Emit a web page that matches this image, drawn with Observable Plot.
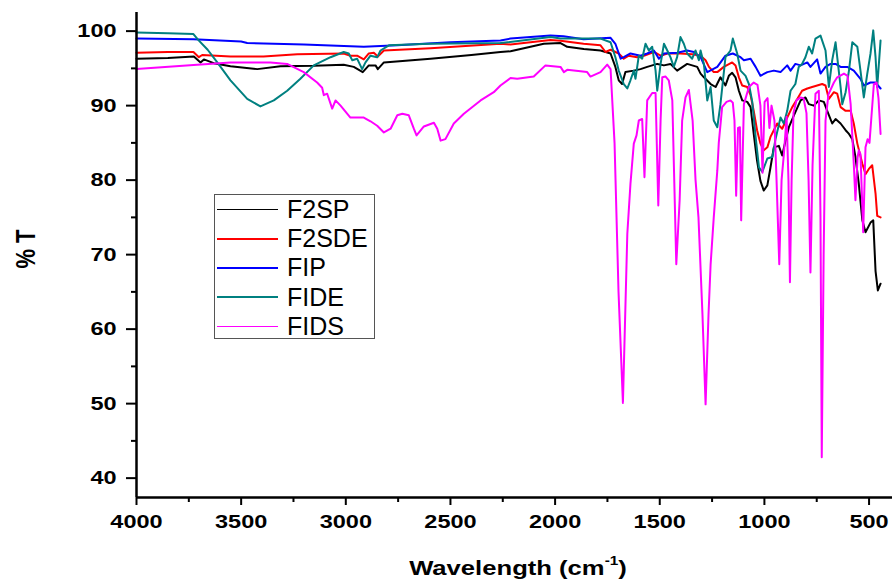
<!DOCTYPE html>
<html><head><meta charset="utf-8">
<script src="https://cdn.jsdelivr.net/npm/d3@7"></script>
<script src="https://cdn.jsdelivr.net/npm/@observablehq/plot@0.6"></script>
<style>
html,body{margin:0;padding:0;background:#fff;}
#wrap{position:relative;width:892px;height:583px;font-family:"Liberation Sans",Arial,sans-serif;color:#000;overflow:hidden;}
#wrap svg{display:block;}
.ylab{position:absolute;left:26px;top:249px;font-weight:bold;font-size:22px;white-space:nowrap;transform:translate(-50%,-50%) scaleX(1.25) rotate(-90deg);}
.xlab{position:absolute;left:518px;top:568px;font-weight:bold;font-size:21px;white-space:nowrap;transform:translate(-50%,-50%) scaleX(1.22);}
.xlab sup{font-size:0.6em;position:relative;top:-0.15em;}
#legend{position:absolute;left:214px;top:194px;width:161px;height:145px;border:1px solid #555;box-sizing:border-box;background:#fff;}
#legend .row{height:29.2px;display:flex;align-items:center;}
#legend .ln{width:61px;height:1.6px;margin-left:2px;margin-right:9px;}
#legend .tx{font-size:25px;line-height:25px;white-space:nowrap;}
</style></head><body>
<div id="wrap"></div>
<script>
// Series names and colours
const seriesNames = ["F2SP", "F2SDE", "FIP", "FIDE", "FIDS"];
const seriesColors = ["#000000", "#ff0000", "#0000ff", "#008080", "#ff00ff"];

// [wavenumber (cm-1), %T]
const F2SP = [[4000,96.3],[3850,96.4],[3726,96.6],[3694,95.8],[3678,96.2],[3631,95.7],[3551,95.3],[3423,94.9],[3312,95.3],[3153,95.35],[3010,95.5],[2962,95.2],[2919,94.5],[2890,95.4],[2858,95.4],[2847,94.9],[2818,95.8],[2595,96.3],[2400,96.8],[2261,97.2],[2213,97.3],[2165,97.6],[2054,98.3],[1974,98.4],[1942,97.9],[1863,97.6],[1783,97.4],[1735,97.0],[1712,95.2],[1696,93.4],[1680,92.9],[1664,94.5],[1624,94.7],[1592,94.9],[1560,95.2],[1512,95.6],[1480,95.4],[1449,95.6],[1417,94.7],[1369,95.6],[1321,95.2],[1305,94.3],[1289,93.8],[1257,92.9],[1233,92.5],[1210,93.8],[1186,92.7],[1170,94.0],[1154,94.4],[1138,93.8],[1122,92.0],[1106,90.7],[1082,90.5],[1066,89.8],[1051,86.2],[1035,82.6],[1019,79.9],[1003,78.6],[986,79.3],[971,81.7],[955,84.4],[931,84.6],[915,83.3],[899,85.3],[883,87.1],[859,88.7],[827,90.7],[804,91.1],[788,90.2],[764,90.0],[740,90.7],[716,90.5],[700,89.3],[676,87.6],[660,88.2],[636,87.6],[612,86.7],[596,86.2],[580,85.5],[565,83.1],[549,79.5],[532,74.6],[517,73.0],[493,74.3],[480,74.6],[469,67.8],[458,65.2],[445,66.1]];

const F2SDE = [[4000,97.1],[3850,97.2],[3728,97.2],[3702,96.5],[3686,96.8],[3551,96.6],[3393,96.6],[3232,96.9],[3010,97.0],[2978,96.7],[2946,96.7],[2914,96.2],[2890,97.0],[2866,97.1],[2847,96.6],[2818,97.4],[2595,97.7],[2261,98.3],[2213,98.2],[2022,98.8],[1974,98.7],[1864,98.3],[1783,98.1],[1759,97.2],[1735,97.5],[1696,97.0],[1672,96.3],[1648,96.7],[1608,96.5],[1576,96.7],[1528,97.2],[1496,96.7],[1464,97.0],[1401,97.0],[1345,96.9],[1305,96.7],[1281,96.1],[1265,95.2],[1242,94.5],[1225,94.5],[1194,95.2],[1154,95.8],[1138,95.4],[1122,93.8],[1106,92.7],[1082,92.5],[1066,91.4],[1051,89.3],[1035,86.7],[1019,84.9],[1003,84.0],[986,84.4],[971,85.8],[939,87.6],[915,86.9],[891,88.4],[867,89.8],[843,90.9],[820,92.0],[795,92.3],[772,92.5],[748,92.7],[724,92.9],[708,92.7],[692,90.9],[668,91.8],[652,91.6],[636,89.8],[612,89.3],[588,89.3],[573,87.6],[556,84.9],[532,82.2],[517,80.8],[501,81.5],[485,82.0],[469,78.2],[461,75.2],[445,75.0]];

const FIP = [[4000,99.0],[3728,98.9],[3500,98.6],[3471,98.4],[3200,98.2],[2914,97.9],[2754,98.1],[2500,98.5],[2261,98.75],[2213,99.0],[2165,99.1],[2022,99.4],[1960,99.3],[1864,98.9],[1735,99.1],[1712,98.3],[1687,96.3],[1672,96.5],[1640,97.0],[1592,96.7],[1560,97.0],[1528,97.4],[1504,96.3],[1480,97.0],[1417,97.1],[1369,97.4],[1337,97.2],[1305,96.5],[1273,94.5],[1225,95.2],[1186,96.7],[1151,97.0],[1114,96.5],[1098,96.1],[1066,96.3],[1042,95.2],[1019,94.0],[986,94.5],[955,94.7],[923,94.5],[891,95.4],[875,94.7],[852,95.6],[827,95.4],[795,95.8],[780,95.2],[748,96.2],[732,94.3],[708,95.2],[684,95.6],[660,95.6],[636,95.2],[604,95.2],[573,94.7],[541,93.6],[525,92.7],[493,93.1],[469,93.1],[445,92.3]];

const FIDE = [[4000,99.8],[3850,99.7],[3728,99.6],[3704,98.8],[3660,97.5],[3614,95.8],[3551,93.4],[3471,90.9],[3408,89.9],[3344,90.7],[3280,92.0],[3217,93.6],[3153,95.4],[3073,96.5],[3010,97.2],[2986,97.0],[2969,96.1],[2946,96.3],[2922,94.9],[2906,95.8],[2882,96.7],[2850,96.5],[2834,97.4],[2794,98.1],[2600,98.3],[2261,98.4],[2022,99.2],[1974,99.0],[1783,99.0],[1735,98.5],[1712,96.5],[1696,94.7],[1672,92.9],[1655,92.3],[1640,93.4],[1624,94.7],[1616,93.6],[1600,96.7],[1584,96.3],[1568,98.3],[1552,97.4],[1536,97.9],[1520,94.7],[1512,92.0],[1496,95.6],[1480,98.3],[1464,97.4],[1449,96.5],[1433,95.2],[1417,96.5],[1401,99.2],[1385,98.3],[1369,97.0],[1345,96.3],[1329,97.4],[1313,96.1],[1305,97.4],[1289,95.6],[1273,90.7],[1257,92.5],[1242,88.0],[1225,87.1],[1210,90.2],[1186,96.5],[1162,97.4],[1151,99.0],[1130,97.0],[1114,94.7],[1090,94.0],[1074,92.9],[1058,90.5],[1042,85.8],[1026,81.7],[1010,81.1],[986,82.9],[962,83.1],[947,85.5],[923,88.4],[907,87.6],[891,89.3],[875,92.0],[852,92.9],[836,95.2],[820,95.6],[804,96.5],[788,97.9],[772,97.0],[756,99.0],[732,99.4],[708,97.4],[692,92.5],[676,96.1],[660,98.5],[636,92.5],[628,90.2],[612,91.8],[596,94.7],[580,98.5],[556,97.9],[541,94.7],[525,91.1],[509,94.2],[493,97.0],[480,100.1],[469,96.5],[461,92.5],[445,98.75]];

const FIDS = [[4000,94.9],[3710,95.5],[3551,95.8],[3360,95.8],[3280,95.6],[3201,94.5],[3137,93.1],[3113,92.4],[3105,91.4],[3089,91.6],[3065,89.6],[3049,90.7],[3025,90.0],[2978,88.4],[2914,88.4],[2882,87.9],[2850,87.3],[2818,86.4],[2786,86.9],[2754,88.7],[2730,88.9],[2699,88.7],[2675,86.9],[2662,86.0],[2627,87.2],[2579,87.7],[2563,86.9],[2547,85.3],[2524,85.5],[2484,87.6],[2436,88.9],[2356,90.7],[2293,91.8],[2261,92.7],[2213,93.7],[2181,93.6],[2102,93.9],[2046,95.4],[1974,95.2],[1958,94.5],[1942,94.8],[1847,94.5],[1831,93.9],[1783,94.5],[1751,95.5],[1735,94.9],[1716,85],[1697,65],[1676,50.1],[1655,72.8],[1640,79.5],[1624,84.9],[1611,86],[1600,88],[1584,88.2],[1573,80.4],[1560,90.7],[1536,91.7],[1520,91.7],[1507,76.6],[1496,88],[1488,93.8],[1472,93.9],[1457,93.4],[1440,90.7],[1421,68.7],[1405,77.3],[1393,88],[1377,91.1],[1361,92.1],[1343,88],[1329,80],[1315,75],[1296,62],[1281,49.9],[1267,62],[1257,68.7],[1242,75],[1225,81.3],[1218,85],[1202,89.8],[1181,90.5],[1162,90.7],[1151,90.4],[1143,88],[1135,77.9],[1126,87],[1117,87.1],[1111,74.6],[1098,90.2],[1074,92.5],[1051,93.1],[1033,92.8],[1019,90],[1009,81],[999,90.5],[985,91],[976,87],[966,90],[952,88],[942,80],[929,68.7],[918,80],[907,83.5],[894,88.5],[885,80],[878,66.3],[870,80],[861,89],[847,90.7],[827,91.1],[813,91],[799,89],[789,80],[780,67.6],[770,82],[756,91.6],[740,92],[732,75],[726,42.8],[717,70],[708,88],[694,91.5],[668,93.1],[652,93.8],[620,94.3],[603,94],[588,90.2],[573,82.2],[565,77.3],[555,83],[549,84],[541,83.5],[528,73],[517,84.4],[507,85.5],[498,85],[490,88],[477,92.9],[464,93.1],[455,91],[445,86.2]];

const seriesData = [F2SP, F2SDE, FIP, FIDE, FIDS];

// Axis values
const xDomain = [4000, 388];
const yDomain = [37.4, 102.5];
const xTicks = [4000, 3500, 3000, 2500, 2000, 1500, 1000, 500];
const xMinor = [3750, 3250, 2750, 2250, 1750, 1250, 750];
const yTicks = [40, 50, 60, 70, 80, 90, 100];
const yMinor = [45, 55, 65, 75, 85, 95];

const lineMarks = seriesData.map((arr, i) =>
  Plot.line(arr, {x: d => d[0], y: d => d[1], stroke: seriesColors[i], strokeWidth: 2, strokeLinejoin: "round"})
);

const chart = Plot.plot({
  width: 892, height: 583,
  marginTop: 12, marginBottom: 86, marginLeft: 136, marginRight: 0,
  style: {fontFamily: "'Liberation Sans', Arial, sans-serif", fontSize: "18.5px", fontWeight: "bold", color: "#000", background: "#fff", overflow: "visible"},
  x: {domain: xDomain},
  y: {domain: yDomain},
  marks: [
    ...lineMarks,
    Plot.axisX({ticks: xTicks, tickSize: 8, tickPadding: 9, tickFormat: d => String(d), label: null, strokeWidth: 2}),
    Plot.axisX({ticks: xMinor, tickSize: 5, tickFormat: () => "", label: null, strokeWidth: 2}),
    Plot.axisY({ticks: yTicks, tickSize: 10, tickPadding: 10, tickFormat: d => String(d), label: null, strokeWidth: 2}),
    Plot.axisY({ticks: yMinor, tickSize: 5, tickFormat: () => "", label: null, strokeWidth: 2}),
    Plot.ruleX([xDomain[0]], {stroke: "#000", strokeWidth: 2.5}),
    Plot.ruleY([yDomain[0]], {stroke: "#000", strokeWidth: 2.5})
  ]
});

const wrap = document.getElementById("wrap");
wrap.appendChild(chart);

// Stretch tick labels horizontally like the reference
chart.querySelectorAll('g[aria-label$="tick label"] text').forEach(t => {
  const w = t.getComputedTextLength();
  if (w > 0) {
    t.setAttribute("textLength", (w * 1.27).toFixed(1));
    t.setAttribute("lengthAdjust", "spacingAndGlyphs");
  }
});

// Axis titles
const ylab = document.createElement("div");
ylab.className = "ylab";
ylab.textContent = "% T";
wrap.appendChild(ylab);

const xlab = document.createElement("div");
xlab.className = "xlab";
xlab.innerHTML = "Wavelength (cm<sup>-1</sup>)";
wrap.appendChild(xlab);

// Legend
const legend = document.createElement("div");
legend.id = "legend";
seriesNames.forEach((name, i) => {
  const row = document.createElement("div");
  row.className = "row";
  const ln = document.createElement("div");
  ln.className = "ln";
  ln.style.background = seriesColors[i];
  const tx = document.createElement("div");
  tx.className = "tx";
  tx.textContent = name;
  row.appendChild(ln);
  row.appendChild(tx);
  legend.appendChild(row);
});
wrap.appendChild(legend);
</script>
</body></html>
